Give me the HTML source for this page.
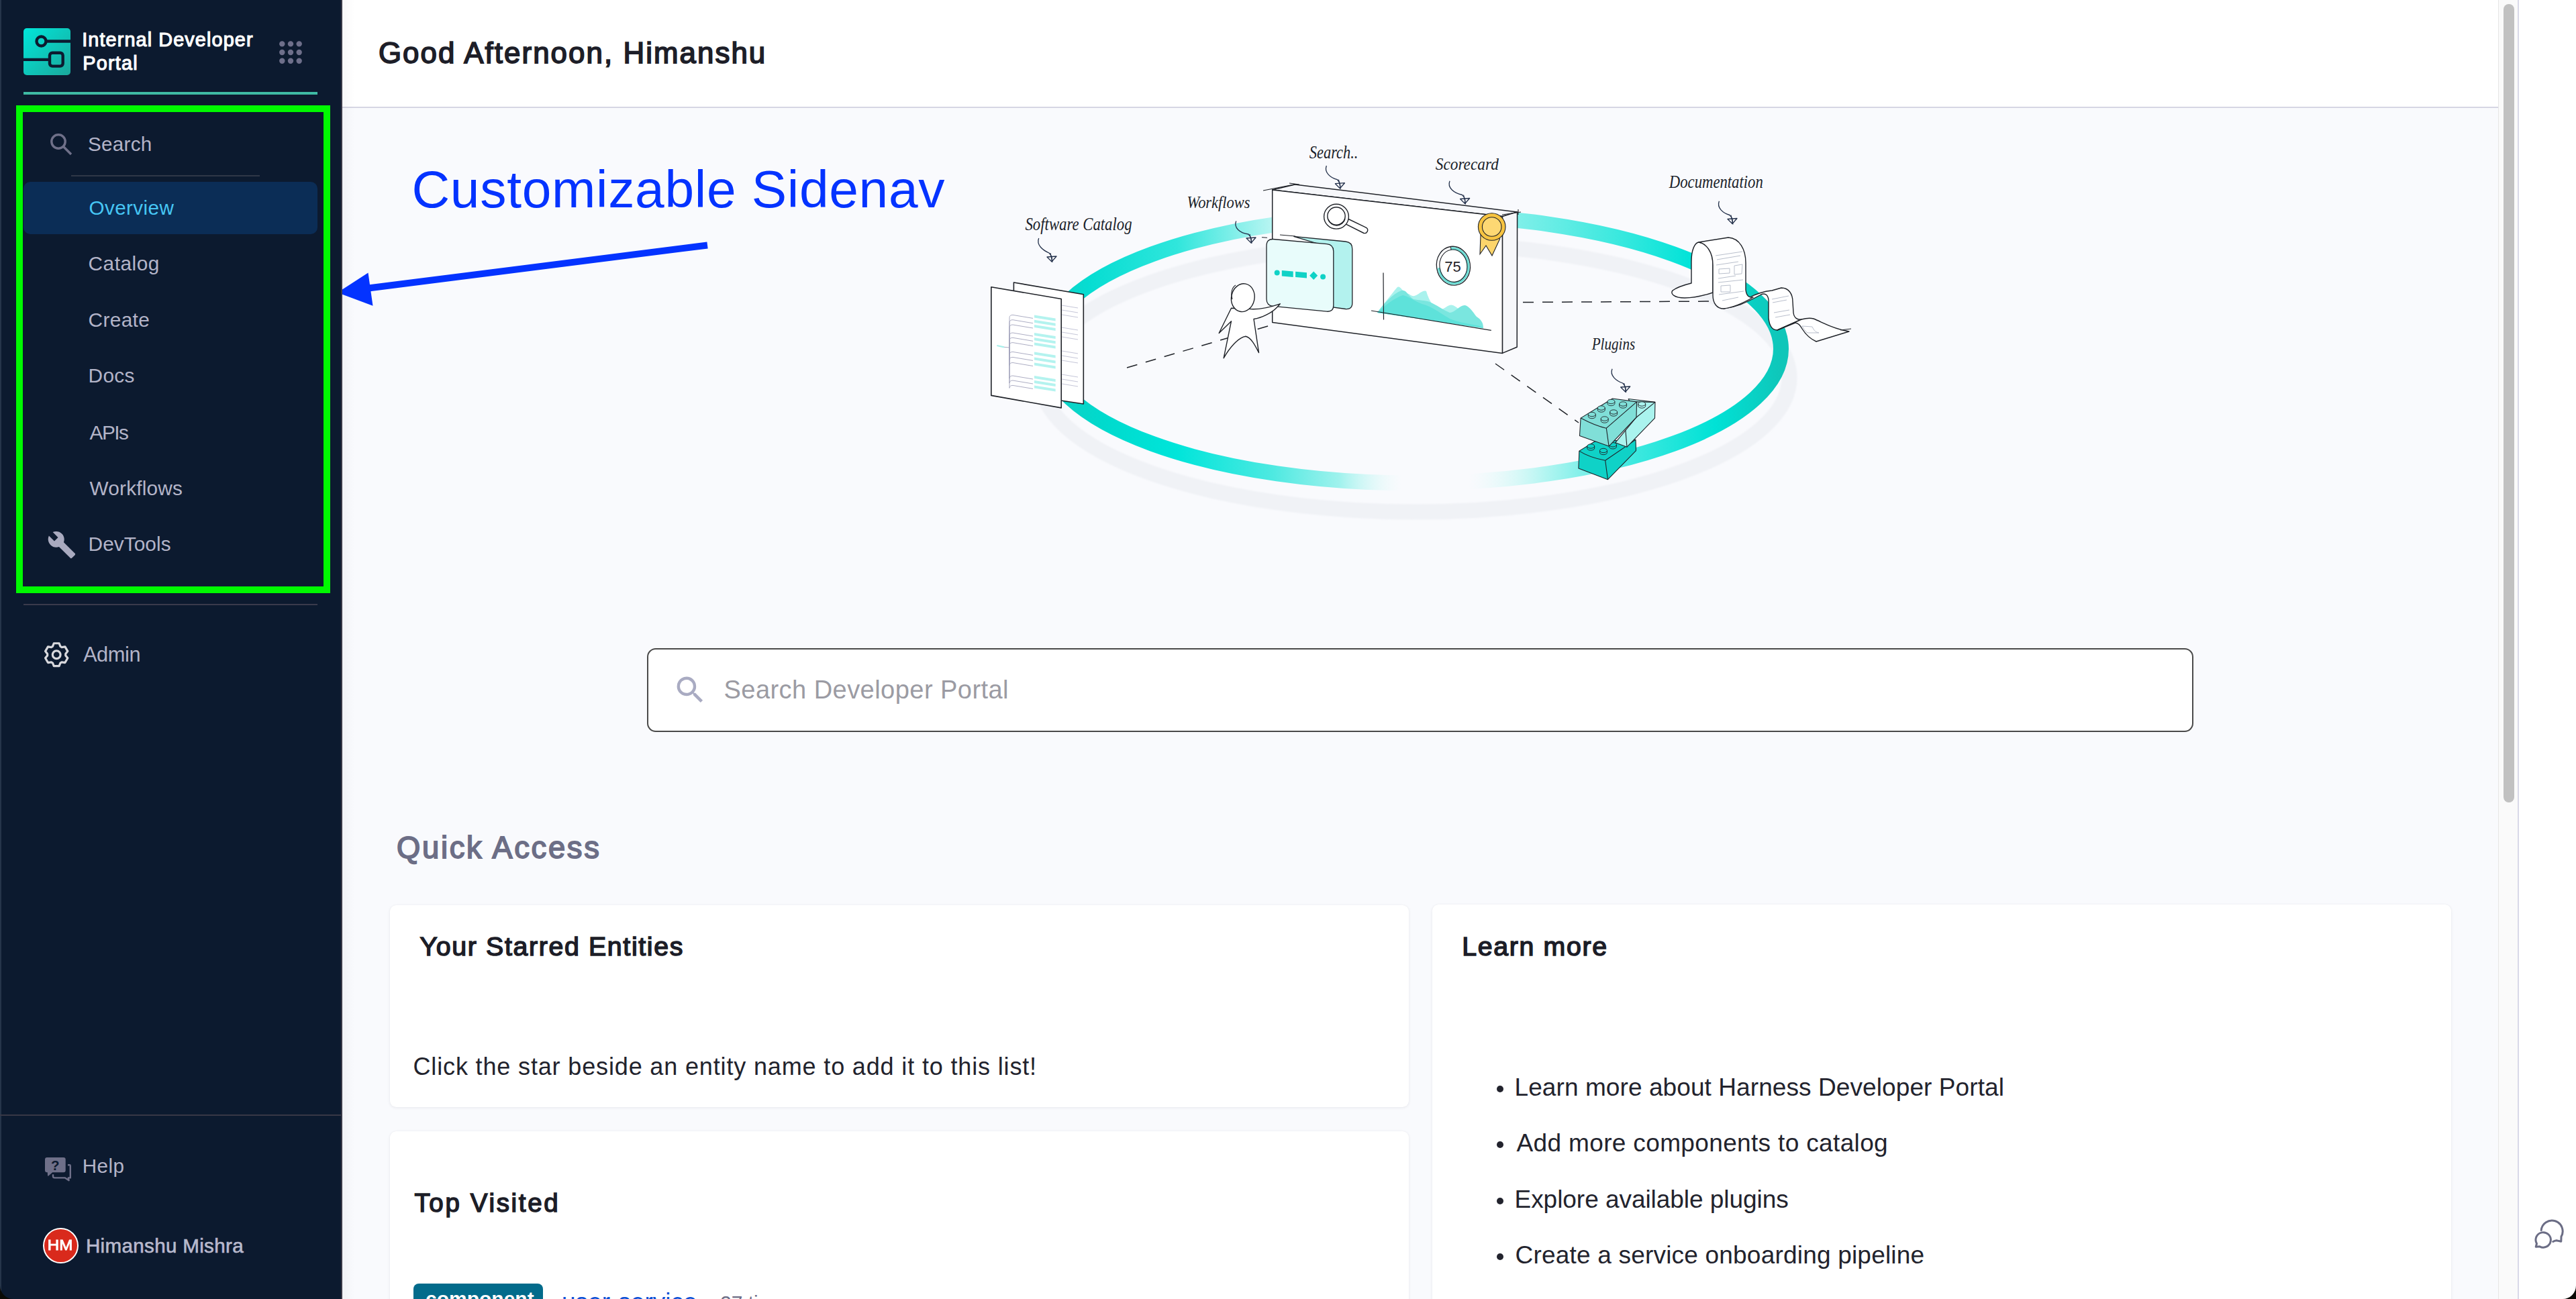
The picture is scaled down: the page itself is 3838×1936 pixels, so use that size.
<!DOCTYPE html>
<html><head><meta charset="utf-8"><title>Internal Developer Portal</title><style>
html,body{margin:0;padding:0}
body{width:3838px;height:1936px;overflow:hidden;position:relative;background:#f9fafd;font-family:"Liberation Sans",sans-serif}
.t{position:absolute;white-space:pre}
</style></head><body>
<div style="position:absolute;left:510px;top:0px;width:3212px;height:159px;background:#fff;"></div><div style="position:absolute;left:510px;top:159px;width:3212px;height:2px;background:#d6d6e3;"></div><div style="position:absolute;left:510px;top:0px;width:18px;height:1936px;background:linear-gradient(90deg,rgba(0,0,20,0.03),rgba(0,0,20,0));"></div><div style="position:absolute;left:3722px;top:0px;width:31px;height:1936px;background:#fafafa;border-left:1px solid #e6e6e6;border-right:2px solid #d9d9e8;box-sizing:border-box;"></div><div style="position:absolute;left:3730px;top:6px;width:16px;height:1190px;background:#c1c1c1;border-radius:8px;"></div><div style="position:absolute;left:3753px;top:0px;width:85px;height:1936px;background:#fff;"></div><svg style="position:absolute;left:3760px;top:1800px" width="78" height="80" viewBox="3760 1800 78 80"><g fill="none" stroke="#6b6d85" stroke-width="3" stroke-linecap="round" stroke-linejoin="round">
<path d="M3786.2,1833.6 A16,16 0 1 1 3816,1843 L3815.8,1850.2 L3809,1848.8 Q3806,1849.2 3803.8,1850.5"/>
<path d="M3779.5,1853.5 A11.2,11.2 0 1 1 3784,1857.8 L3778.2,1858.2 Z"/></g></svg><div class="t" style="left:563.88px;top:45.73px;font-size:43.82px;line-height:66px;color:#1d1e28;-webkit-text-stroke:1.75px #1d1e28;letter-spacing:2.080px;">Good Afternoon, Himanshu</div><div class="t" style="left:613.50px;top:223.49px;font-size:78.49px;line-height:118px;color:#0433ff;letter-spacing:0.689px;">Customizable Sidenav</div><svg style="position:absolute;left:500px;top:340px" width="570" height="130" viewBox="500 340 570 130">
<line x1="1054" y1="365.5" x2="545" y2="430" stroke="#0433ff" stroke-width="10"/>
<polygon points="503,436 548.5,406.5 555.5,455.8" fill="#0433ff"/></svg><svg style="position:absolute;left:1450px;top:190px" width="1350" height="620" viewBox="1450 190 1350 620"><defs>
<linearGradient id="gu" gradientUnits="userSpaceOnUse" x1="1556" y1="0" x2="2654" y2="0">
<stop offset="0" stop-color="#12cfc3"/><stop offset="0.06" stop-color="#06ddd2"/><stop offset="0.18" stop-color="#30e6dc"/>
<stop offset="0.31" stop-color="#b9f5f2"/><stop offset="0.64" stop-color="#80efe9"/><stop offset="0.77" stop-color="#3fe9df"/>
<stop offset="0.88" stop-color="#00e3d8"/><stop offset="1" stop-color="#0fc6b9"/></linearGradient>
<linearGradient id="gl" gradientUnits="userSpaceOnUse" x1="1556" y1="0" x2="2654" y2="0">
<stop offset="0" stop-color="#12cfc3"/><stop offset="0.08" stop-color="#00dacd"/><stop offset="0.18" stop-color="#00e5da"/>
<stop offset="0.31" stop-color="#4ee9e1"/><stop offset="0.40" stop-color="#9ff2ed"/><stop offset="0.485" stop-color="#e4fbfa" stop-opacity="0"/>
<stop offset="0.575" stop-color="#e4fbfa" stop-opacity="0"/><stop offset="0.68" stop-color="#b2f5f1"/><stop offset="0.79" stop-color="#44e9e0"/>
<stop offset="0.91" stop-color="#00e2d6"/><stop offset="1" stop-color="#0fc6b9"/></linearGradient>
<filter id="bl" x="-5%" y="-20%" width="110%" height="140%"><feGaussianBlur stdDeviation="1.2"/></filter>
</defs><ellipse cx="2108" cy="563" rx="558" ry="200" fill="none" stroke="#f0f2f6" stroke-width="23" filter="url(#bl)"/><path d="M1556.5,520 A548.5,200 0 0 1 2653.5,520" fill="none" stroke="url(#gu)" stroke-width="23"/><path d="M1556.5,520 A548.5,200 0 0 0 2653.5,520" fill="none" stroke="url(#gl)" stroke-width="23"/><g stroke="#1f2228" stroke-width="1.5" stroke-dasharray="16 13" fill="none"><path d="M1679,548 L1896,484"/><path d="M2269,450.5 L2556,449"/><path d="M2228,542 L2352,630"/></g><g stroke="#1f2228" stroke-width="1.6" stroke-linejoin="round"><path d="M1510.4,421 L1614.3,438.8 L1614.3,602 L1581,597 L1510.4,586 Z" fill="#fff"/><path d="M1476.8,427.8 L1581.2,445.5 L1581.2,607.9 L1476.8,589.4 Z" fill="#fff"/></g><g stroke="#c5c6d8" stroke-width="1"><path d="M1582,455 L1606,459"/><path d="M1582,462 L1606,466"/><path d="M1582,469 L1606,473"/><path d="M1582,488 L1606,492"/><path d="M1582,495 L1606,499"/><path d="M1582,502 L1606,506"/><path d="M1582,523 L1606,527"/><path d="M1582,530 L1606,534"/><path d="M1582,537 L1606,541"/><path d="M1582,558 L1606,562"/><path d="M1582,565 L1606,569"/><path d="M1582,572 L1606,576"/></g><g fill="#b4f3ef"><path d="M1541,469.4 L1572.6,474.4 L1572.6,478.4 L1541,473.4 Z"/><path d="M1541,476.7 L1572.6,481.7 L1572.6,485.7 L1541,480.7 Z"/><path d="M1541,484 L1572.6,489 L1572.6,493 L1541,488 Z"/><path d="M1541,496 L1572.6,501 L1572.6,505 L1541,500 Z"/><path d="M1541,503.3 L1572.6,508.3 L1572.6,512.3 L1541,507.3 Z"/><path d="M1541,510.6 L1572.6,515.6 L1572.6,519.6 L1541,514.6 Z"/><path d="M1541,524.4 L1572.6,529.4 L1572.6,533.4 L1541,528.4 Z"/><path d="M1541,532.4 L1572.6,537.4 L1572.6,541.4 L1541,536.4 Z"/><path d="M1541,540.5 L1572.6,545.5 L1572.6,549.5 L1541,544.5 Z"/><path d="M1541,560 L1572.6,565 L1572.6,569 L1541,564 Z"/><path d="M1541,567 L1572.6,572 L1572.6,576 L1541,571 Z"/><path d="M1541,574.4 L1572.6,579.4 L1572.6,583.4 L1541,578.4 Z"/></g><g stroke="#a3a4bc" stroke-width="0.9" fill="none"><path d="M1504,518 L1504,473.4 Q1504,469.4 1509,469.4 L1539,474.4"/><path d="M1504,518 L1504,480.7 Q1504,476.7 1509,476.7 L1539,481.7"/><path d="M1504,518 L1504,488 Q1504,484 1509,484 L1539,489"/><path d="M1504,518 L1504,500 Q1504,496 1509,496 L1539,501"/><path d="M1504,518 L1504,507.3 Q1504,503.3 1509,503.3 L1539,508.3"/><path d="M1504,518 L1504,514.6 Q1504,510.6 1509,510.6 L1539,515.6"/><path d="M1504,518 L1504,528.4 Q1504,524.4 1509,524.4 L1539,529.4"/><path d="M1504,518 L1504,536.4 Q1504,532.4 1509,532.4 L1539,537.4"/><path d="M1504,518 L1504,544.5 Q1504,540.5 1509,540.5 L1539,545.5"/><path d="M1504,518 L1504,564 Q1504,560 1509,560 L1539,565"/><path d="M1504,518 L1504,571 Q1504,567 1509,567 L1539,572"/><path d="M1504,518 L1504,578.4 Q1504,574.4 1509,574.4 L1539,579.4"/></g><path d="M1485.3,515 L1496,517.3" stroke="#a8f0ea" stroke-width="2.2"/><path d="M1496,517.3 L1504,518" stroke="#a3a4bc" stroke-width="0.9"/><g stroke="#1f2228" stroke-width="1.5" stroke-linejoin="round"><path d="M1895.7,282.9 L1929.3,274.9 L2260.6,315.9 L2238.4,322.5 Z" fill="#f6f7fa"/><path d="M2238.4,322.5 L2260.6,315.9 L2260.2,517.2 L2238.4,526.4 Z" fill="#f6f7fa"/><path d="M1895.7,282.9 L2238.4,322.5 L2238.4,526.4 L1895.7,480.5 Z" fill="#fff"/><path d="M1882,284 L1929,274.9 M1921,273 L1936,275 M2238,320 L2266,316 M2262,312 L2262,320" fill="none" stroke-width="1.1"/></g><g stroke="#1f2228" stroke-width="1.4" fill="#fff"><path d="M2006,325 L2036,339.5 A4.6,4.6 0 0 1 2032,347.5 L2003,333 Z"/><circle cx="1991" cy="322.7" r="18.4"/><circle cx="1991" cy="322" r="13.2"/><path d="M1979,327 A13,13 0 0 0 2004,326" fill="none"/></g><g transform="rotate(-8 2165.4 396.2)"><ellipse cx="2165.4" cy="396.2" rx="25" ry="29" fill="#fff" stroke="#1f2228" stroke-width="1.3"/><path d="M2165.4,370.2 A22,26 0 1 1 2143.4,396.2" fill="none" stroke="#6fdcd4" stroke-width="4.2"/><ellipse cx="2165.4" cy="396.2" rx="20.5" ry="24.2" fill="none" stroke="#1f2228" stroke-width="1.1"/><path d="M2165.4,367.2 L2165.4,372" stroke="#1f2228" stroke-width="1"/></g><text x="2164.5" y="404.5" font-family="Liberation Sans" font-size="22" text-anchor="middle" fill="#1f2228">75</text><g stroke="#1f2228" stroke-width="1.1"><path d="M2206,350 L2205,378.7 L2214,366 L2223,381 L2234.7,356 Z" fill="#fdd56b"/><circle cx="2222.7" cy="338" r="20.3" fill="#f6c340"/><circle cx="2222.7" cy="338" r="14.3" fill="#fdd873"/></g><path d="M2052,466 C2060,455 2072,440 2081,429 C2086,424 2089,434 2094,437 C2100,436 2103,444 2110,440 C2116,437 2120,432 2125,434 C2130,450 2135,458 2146,461 C2152,462 2158,452 2165,455 C2172,458 2180,468 2190,472 C2200,476 2208,480 2210,489 Z" fill="#a9f2ed"/><path d="M2052,466 C2062,452 2075,438 2088,433 C2096,431 2098,442 2106,446 C2115,448 2122,447 2130,450 C2140,454 2150,462 2160,466 C2168,466 2175,454 2183,455 C2190,457 2195,466 2200,472 C2206,476 2210,480 2210,489 Z" fill="#7ae6df"/><path d="M2052,466 C2064,455 2076,445 2090,440 C2100,442 2112,452 2125,455 C2138,460 2148,468 2160,475 C2172,480 2185,482 2195,484 C2203,485 2208,487 2210,489 Z" fill="#5ee2da"/><path d="M2061,406.4 L2061.5,476.5 M2043,463 L2221.8,492.3" stroke="#1f2228" stroke-width="1.2"/><g stroke="#1f2228" stroke-width="1.3"><path d="M1927.4,352.3 L2004.8,360 Q2014.8,361 2014.8,371 L2014.8,451.5 Q2014.8,461.5 2004.8,460.5 L1986,458 L1986,370 Z" fill="#b3f2ee"/><path d="M1897,356.5 L1976.8,363.6 Q1986.8,364.5 1986.8,374.5 L1986.8,455 Q1986.8,465 1976.8,464.2 L1897,456.4 Q1887,455.4 1887,445.4 L1887,366.5 Q1887,356 1897,356.5 Z" fill="#e8fcfb"/><path d="M1880,353.7 L1888,354.3 M1907,350 L1930,352" fill="none" stroke-width="1"/></g><g fill="#10d2c6"><circle cx="1902.7" cy="406.5" r="4"/><path d="M1909.8,403 L1926.7,404.5 L1926.7,413 L1909.8,411.5 Z"/><path d="M1930.1,404.7 L1947,406.2 L1947,414.5 L1930.1,413 Z"/><path d="M1957.2,404.5 L1963.2,410.7 L1957.2,416.9 L1951.2,410.7 Z"/><circle cx="1971.1" cy="412.4" r="4"/></g><g stroke="#1f2228" stroke-width="1.4" stroke-linejoin="round" fill="#fff"><path d="M1834.5,459.3 L1816.2,496.5 L1834.5,478.7 L1823.2,533.7 C1832,518 1845,503 1856,501.3 C1864,503 1870,515 1875.5,525.6 L1868,475.5 C1880,474 1895,466 1902.4,458.2 L1907.3,452.8 C1895,457 1875,462 1860.4,460.4 Z"/><ellipse cx="1851.8" cy="443.7" rx="17.2" ry="21" transform="rotate(12 1851.8 443.7)"/><path d="M1836,446 C1833,436 1836,428 1841,425" fill="none" stroke-width="1.1"/></g><g stroke="#1f2228" stroke-width="1.4" stroke-linejoin="round" fill="#fff"><path d="M2492,433 C2500,427 2512,424 2520,422 L2520,390 C2520,372 2525,362 2531,361 C2545,363 2552,375 2552,395 L2552,436 C2540,440 2525,444 2510,444 C2495,444 2488,438 2492,433 Z"/><path d="M2605,444 C2620,436 2630,434 2640,433 L2654,429 C2665,429 2671,438 2671,450 L2672,466 C2673,474 2678,477 2684,476 L2648,492 C2640,492 2636,484 2635,474 L2635,447 C2634,438 2628,436 2622,440 C2600,452 2585,458 2568,460 Z"/><path d="M2531,361 L2575,354 C2592,355 2601,372 2601,392 L2601,432 C2602,441 2606,444 2612,443 C2600,450 2585,458 2568,460 C2558,460 2552,452 2552,440 L2552,395 C2552,375 2542,363 2531,361 Z"/><path d="M2684,476 C2692,474 2698,474 2702,475 C2715,480 2730,490 2755,494 L2706,509 C2697,505 2690,498 2685,490 C2682,485 2680,482 2675,481 L2648,492 Z"/><path d="M2742,492 L2758,490" fill="none" stroke-width="1"/></g><g stroke="#b9bfcc" stroke-width="1" fill="none"><path d="M2556,381 L2596,375"/><path d="M2558,387 L2593,381"/><path d="M2557,395 L2590,390"/><path d="M2560,415 L2586,411"/><path d="M2560,421 L2597,417"/><path d="M2561,439 L2598,434"/><path d="M2566,448 L2590,443"/><path d="M2640,446 L2665,441"/><path d="M2641,451 L2662,447"/><path d="M2643,466 L2666,462"/><path d="M2645,473 L2667,469"/><path d="M2561,401 L2577,400 L2577,407 L2561,408 Z M2584,396 L2596,394 L2595,408 L2584,409 Z M2564,426 L2578,425 L2578,435 L2564,435 Z M2685,486 L2700,487 C2703,493 2705,495 2710,496 L2693,496 C2690,494 2687,490 2685,486 Z"/></g><g stroke="#1f2228" stroke-width="1.1" stroke-linejoin="round"><path d="M2352.9,672.1 L2376,658 L2437,655.4 L2437.5,671.6 L2395.5,714.7 L2351.9,698 Z" fill="#0fd2c7"/><path d="M2352.9,672.1 C2365,680 2380,684 2391.7,686.2 L2437,655.4 M2391.7,686.2 L2395.5,714.7" fill="none"/><path d="M2364.7,665 L2364.7,668 A5.5 3.2 0 0 0 2375.7,668 L2375.7,665 Z" fill="#0fd2c7" stroke="#1f2228" stroke-width="0.9"/><ellipse cx="2370.2" cy="665" rx="5.5" ry="3.2" fill="#0fd2c7" stroke="#1f2228" stroke-width="0.9"/><path d="M2383.5,671.5 L2383.5,674.5 A5.5 3.2 0 0 0 2394.5,674.5 L2394.5,671.5 Z" fill="#0fd2c7" stroke="#1f2228" stroke-width="0.9"/><ellipse cx="2389" cy="671.5" rx="5.5" ry="3.2" fill="#0fd2c7" stroke="#1f2228" stroke-width="0.9"/><path d="M2397.5,662.8 L2397.5,665.8 A5.5 3.2 0 0 0 2408.5,665.8 L2408.5,662.8 Z" fill="#0fd2c7" stroke="#1f2228" stroke-width="0.9"/><ellipse cx="2403" cy="662.8" rx="5.5" ry="3.2" fill="#0fd2c7" stroke="#1f2228" stroke-width="0.9"/><path d="M2426.2,594.5 L2466,599.4 L2465.5,623.1 L2424,666.2 L2406.8,659.7 L2421.9,641.4 L2438,622 Z" fill="#aaf3ee"/><path d="M2438.6,598.9 L2466,599.4 M2421.9,641.4 L2424,666.2 M2438,622 L2466,599.4" fill="none"/><path d="M2440.7,602 L2440.7,605 A5.5 3.2 0 0 0 2451.7,605 L2451.7,602 Z" fill="#aaf3ee" stroke="#1f2228" stroke-width="0.9"/><ellipse cx="2446.2" cy="602" rx="5.5" ry="3.2" fill="#aaf3ee" stroke="#1f2228" stroke-width="0.9"/><path d="M2355.1,623.1 L2402.5,594 L2438.6,598.9 L2438,622 L2397.1,665.1 L2353.5,649.5 Z" fill="#80dfd8"/><path d="M2355.1,623.1 C2368,630 2382,636 2393.3,638.2 L2438.6,598.9 M2393.3,638.2 L2397.1,665.1" fill="none"/><path d="M2366.3,617.5 L2366.3,620.5 A5.5 3.2 0 0 0 2377.3,620.5 L2377.3,617.5 Z" fill="#80dfd8" stroke="#1f2228" stroke-width="0.9"/><ellipse cx="2371.8" cy="617.5" rx="5.5" ry="3.2" fill="#80dfd8" stroke="#1f2228" stroke-width="0.9"/><path d="M2380.3,608 L2380.3,611 A5.5 3.2 0 0 0 2391.3,611 L2391.3,608 Z" fill="#80dfd8" stroke="#1f2228" stroke-width="0.9"/><ellipse cx="2385.8" cy="608" rx="5.5" ry="3.2" fill="#80dfd8" stroke="#1f2228" stroke-width="0.9"/><path d="M2394.9,598.5 L2394.9,601.5 A5.5 3.2 0 0 0 2405.9,601.5 L2405.9,598.5 Z" fill="#80dfd8" stroke="#1f2228" stroke-width="0.9"/><ellipse cx="2400.4" cy="598.5" rx="5.5" ry="3.2" fill="#80dfd8" stroke="#1f2228" stroke-width="0.9"/><path d="M2385.2,624 L2385.2,627 A5.5 3.2 0 0 0 2396.2,627 L2396.2,624 Z" fill="#80dfd8" stroke="#1f2228" stroke-width="0.9"/><ellipse cx="2390.7" cy="624" rx="5.5" ry="3.2" fill="#80dfd8" stroke="#1f2228" stroke-width="0.9"/><path d="M2398.6,614 L2398.6,617 A5.5 3.2 0 0 0 2409.6,617 L2409.6,614 Z" fill="#80dfd8" stroke="#1f2228" stroke-width="0.9"/><ellipse cx="2404.1" cy="614" rx="5.5" ry="3.2" fill="#80dfd8" stroke="#1f2228" stroke-width="0.9"/><path d="M2412.6,602 L2412.6,605 A5.5 3.2 0 0 0 2423.6,605 L2423.6,602 Z" fill="#80dfd8" stroke="#1f2228" stroke-width="0.9"/><ellipse cx="2418.1" cy="602" rx="5.5" ry="3.2" fill="#80dfd8" stroke="#1f2228" stroke-width="0.9"/></g><text x="1527.5" y="343" font-family="Liberation Serif" font-style="italic" font-size="27" fill="#1b1f2a" textLength=159 lengthAdjust=spacingAndGlyphs>Software Catalog</text><text x="1768.5" y="309.6" font-family="Liberation Serif" font-style="italic" font-size="26" fill="#1b1f2a" textLength=94 lengthAdjust=spacingAndGlyphs>Workflows</text><text x="1950.8" y="235.6" font-family="Liberation Serif" font-style="italic" font-size="27" fill="#1b1f2a" textLength=72.6 lengthAdjust=spacingAndGlyphs>Search..</text><text x="2138.8" y="252.7" font-family="Liberation Serif" font-style="italic" font-size="26" fill="#1b1f2a" textLength=94 lengthAdjust=spacingAndGlyphs>Scorecard</text><text x="2486.8" y="280.2" font-family="Liberation Serif" font-style="italic" font-size="28" fill="#1b1f2a" textLength=140 lengthAdjust=spacingAndGlyphs>Documentation</text><text x="2371.7" y="521" font-family="Liberation Serif" font-style="italic" font-size="26" fill="#1b1f2a" textLength=64.6 lengthAdjust=spacingAndGlyphs>Plugins</text><path d="M1547.7,355 C1543.7,365 1553.7,373 1563,377 C1567,381 1568,385 1567,389" fill="none" stroke="#23304a" stroke-width="1.3"/><path d="M1560,383 L1574,382 L1567,390 Z" fill="none" stroke="#23304a" stroke-width="1.3" stroke-linejoin="round"/><path d="M1565,377 L1568,391" stroke="#23304a" stroke-width="1.1"/><path d="M1841.7,329.6 C1837.7,339.6 1847.7,347.6 1860,349 C1864,353 1865,357 1864,361" fill="none" stroke="#23304a" stroke-width="1.3"/><path d="M1857,355 L1871,354 L1864,362 Z" fill="none" stroke="#23304a" stroke-width="1.3" stroke-linejoin="round"/><path d="M1862,349 L1865,363" stroke="#23304a" stroke-width="1.1"/><path d="M1976.4,247 C1972.4,257 1982.4,265 1992.4,267.7 C1996.4,271.7 1997.4,275.7 1996.4,279.7" fill="none" stroke="#23304a" stroke-width="1.3"/><path d="M1989.4,273.7 L2003.4,272.7 L1996.4,280.7 Z" fill="none" stroke="#23304a" stroke-width="1.3" stroke-linejoin="round"/><path d="M1994.4,267.7 L1997.4,281.7" stroke="#23304a" stroke-width="1.1"/><path d="M2160,269.7 C2156,279.7 2166,287.7 2178.6,290.5 C2182.6,294.5 2183.6,298.5 2182.6,302.5" fill="none" stroke="#23304a" stroke-width="1.3"/><path d="M2175.6,296.5 L2189.6,295.5 L2182.6,303.5 Z" fill="none" stroke="#23304a" stroke-width="1.3" stroke-linejoin="round"/><path d="M2180.6,290.5 L2183.6,304.5" stroke="#23304a" stroke-width="1.1"/><path d="M2561.4,299.8 C2557.4,309.8 2567.4,317.8 2577,320.5 C2581,324.5 2582,328.5 2581,332.5" fill="none" stroke="#23304a" stroke-width="1.3"/><path d="M2574,326.5 L2588,325.5 L2581,333.5 Z" fill="none" stroke="#23304a" stroke-width="1.3" stroke-linejoin="round"/><path d="M2579,320.5 L2582,334.5" stroke="#23304a" stroke-width="1.1"/><path d="M2402,549.7 C2398,559.7 2408,567.7 2417.7,571 C2421.7,575 2422.7,579 2421.7,583" fill="none" stroke="#23304a" stroke-width="1.3"/><path d="M2414.7,577 L2428.7,576 L2421.7,584 Z" fill="none" stroke="#23304a" stroke-width="1.3" stroke-linejoin="round"/><path d="M2419.7,571 L2422.7,585" stroke="#23304a" stroke-width="1.1"/></svg><div style="position:absolute;left:964px;top:966px;width:2304px;height:125px;background:#fff;border:2px solid #4a4a4a;border-radius:13px;box-sizing:border-box;"></div><svg style="position:absolute;left:1001.6px;top:1001.6px" width="52.8" height="52.8" viewBox="0 0 24 24"><path fill="#a9abc2" d="M15.5 14h-.79l-.28-.27A6.47 6.47 0 0 0 16 9.5 6.5 6.5 0 1 0 9.5 16c1.61 0 3.09-.59 4.23-1.57l.27.28v.79l5 4.99L20.49 19l-4.99-5zm-6 0C7.01 14 5 11.99 5 9.5S7.01 5 9.5 5 14 7.01 14 9.5 11.99 14 9.5 14z"/></svg><div class="t" style="left:1078.50px;top:1000.10px;font-size:38.08px;line-height:57px;color:#9b9ba3;letter-spacing:0.418px;">Search Developer Portal</div><div class="t" style="left:591.01px;top:1229.98px;font-size:45.33px;line-height:68px;color:#6c6e86;-webkit-text-stroke:1.81px #6c6e86;letter-spacing:2.708px;">Quick Access</div><div style="position:absolute;left:581px;top:1349px;width:1518px;height:301px;background:#fff;border-radius:9px;box-shadow:0 1px 4px rgba(40,41,61,0.08),0 0 1px rgba(40,41,61,0.08);"></div><div style="position:absolute;left:581px;top:1686px;width:1518px;height:304px;background:#fff;border-radius:9px;box-shadow:0 1px 4px rgba(40,41,61,0.08),0 0 1px rgba(40,41,61,0.08);"></div><div style="position:absolute;left:2134px;top:1348px;width:1518px;height:642px;background:#fff;border-radius:9px;box-shadow:0 1px 4px rgba(40,41,61,0.08),0 0 1px rgba(40,41,61,0.08);"></div><div class="t" style="left:625.59px;top:1380.79px;font-size:39.29px;line-height:59px;color:#1c1d27;-webkit-text-stroke:1.57px #1c1d27;letter-spacing:1.646px;">Your Starred Entities</div><div class="t" style="left:615.50px;top:1562.50px;font-size:36.05px;line-height:54px;color:#22232d;letter-spacing:0.831px;">Click the star beside an entity name to add it to this list!</div><div class="t" style="left:617.47px;top:1763.90px;font-size:38.46px;line-height:58px;color:#1c1d27;-webkit-text-stroke:1.54px #1c1d27;letter-spacing:2.676px;">Top Visited</div><div style="position:absolute;left:616px;top:1913px;width:193px;height:77px;background:#036b8b;border-radius:8px;"></div><div class="t" style="left:634.00px;top:1913.10px;font-size:30px;line-height:45px;color:#fff;font-weight:700;">component</div><div class="t" style="left:837.00px;top:1912.67px;font-size:37px;line-height:56px;color:#0b4fd6;">user-service</div><div class="t" style="left:1073.00px;top:1918.60px;font-size:30px;line-height:45px;color:#6b6d85;">27 times</div><div class="t" style="left:2178.29px;top:1380.79px;font-size:39.29px;line-height:59px;color:#1c1d27;-webkit-text-stroke:1.57px #1c1d27;letter-spacing:1.659px;">Learn more</div><div style="position:absolute;left:2230px;top:1618.1px;width:10px;height:10.100000000000136px;background:#22232d;border-radius:50%;"></div><div class="t" style="left:2256.50px;top:1591.95px;font-size:37.06px;line-height:56px;color:#22232d;letter-spacing:0.062px;">Learn more about Harness Developer Portal</div><div style="position:absolute;left:2230px;top:1701.1px;width:10px;height:10.100000000000136px;background:#22232d;border-radius:50%;"></div><div class="t" style="left:2259.50px;top:1674.95px;font-size:37.06px;line-height:56px;color:#22232d;letter-spacing:0.328px;">Add more components to catalog</div><div style="position:absolute;left:2230px;top:1785.1px;width:10px;height:10.100000000000136px;background:#22232d;border-radius:50%;"></div><div class="t" style="left:2256.50px;top:1758.95px;font-size:37.06px;line-height:56px;color:#22232d;letter-spacing:-0.062px;">Explore available plugins</div><div style="position:absolute;left:2230px;top:1867.8999999999999px;width:10px;height:10.100000000000136px;background:#22232d;border-radius:50%;"></div><div class="t" style="left:2257.50px;top:1841.75px;font-size:37.06px;line-height:56px;color:#22232d;letter-spacing:0.177px;">Create a service onboarding pipeline</div><div style="position:absolute;left:0px;top:0px;width:508px;height:1936px;background:#0c1a2f;"></div><div style="position:absolute;left:0px;top:0px;width:2px;height:1936px;background:#26354a;"></div><div style="position:absolute;left:508px;top:0px;width:2px;height:1936px;background:#383846;"></div><svg style="position:absolute;left:35px;top:42px" width="70" height="70" viewBox="0 0 70 70">
<defs><linearGradient id="lg" x1="0" y1="0" x2="1" y2="1"><stop offset="0" stop-color="#00e6da"/><stop offset="1" stop-color="#1ba89b"/></linearGradient></defs>
<rect width="70" height="70" rx="5" fill="url(#lg)"/>
<g fill="none" stroke="#0c1a2f" stroke-width="4.4"><circle cx="26.5" cy="19.5" r="7"/><line x1="33.5" y1="19.5" x2="70" y2="19.5"/>
<rect x="39" y="36.7" width="19.7" height="19.9" rx="4"/><line x1="0" y1="46.9" x2="39" y2="46.9"/></g></svg><div class="t" style="left:122.28px;top:37.82px;font-size:28.85px;line-height:43px;color:#ffffff;-webkit-text-stroke:1.15px #ffffff;letter-spacing:1.091px;">Internal Developer</div><div class="t" style="left:123.28px;top:72.82px;font-size:28.85px;line-height:43px;color:#ffffff;-webkit-text-stroke:1.15px #ffffff;letter-spacing:1.209px;">Portal</div><svg style="position:absolute;left:400px;top:50px" width="60" height="60" viewBox="400 50 60 60" fill="#6e6f8a"><circle cx="420.3" cy="65.4" r="4.2"/><circle cx="420.3" cy="78" r="4.2"/><circle cx="420.3" cy="90.8" r="4.2"/><circle cx="433" cy="65.4" r="4.2"/><circle cx="433" cy="78" r="4.2"/><circle cx="433" cy="90.8" r="4.2"/><circle cx="445.7" cy="65.4" r="4.2"/><circle cx="445.7" cy="78" r="4.2"/><circle cx="445.7" cy="90.8" r="4.2"/></svg><div style="position:absolute;left:35px;top:137px;width:438px;height:4px;background:#3fbba4;"></div><svg style="position:absolute;left:71px;top:195px" width="40" height="40" viewBox="71 195 40 40"><g fill="none" stroke="#6f7089" stroke-width="3.4"><circle cx="87" cy="211" r="10.2"/><line x1="94.5" y1="218.5" x2="106" y2="230" stroke-width="3.6"/></g></svg><div class="t" style="left:131.00px;top:192.72px;font-size:29.65px;line-height:44px;color:#b3b4c8;letter-spacing:0.280px;">Search</div><div style="position:absolute;left:106px;top:261px;width:281px;height:2px;background:#2f3747;"></div><div style="position:absolute;left:35px;top:271px;width:438px;height:78px;background:#0b2d56;border-radius:10px;"></div><div class="t" style="left:132.60px;top:287.72px;font-size:29.65px;line-height:44px;color:#46c6f4;letter-spacing:0.386px;">Overview</div><div class="t" style="left:131.60px;top:370.17px;font-size:29.8px;line-height:45px;color:#b3b4c8;letter-spacing:0.500px;">Catalog</div><div class="t" style="left:131.60px;top:454.17px;font-size:29.8px;line-height:45px;color:#b3b4c8;letter-spacing:0.360px;">Create</div><div class="t" style="left:131.60px;top:537.17px;font-size:29.8px;line-height:45px;color:#b3b4c8;letter-spacing:0.267px;">Docs</div><div class="t" style="left:133.60px;top:621.57px;font-size:29.8px;line-height:45px;color:#b3b4c8;letter-spacing:-1.533px;">APIs</div><div class="t" style="left:133.60px;top:705.17px;font-size:29.8px;line-height:45px;color:#b3b4c8;letter-spacing:0.175px;">Workflows</div><div class="t" style="left:131.60px;top:787.77px;font-size:29.8px;line-height:45px;color:#b3b4c8;letter-spacing:0.057px;">DevTools</div><svg style="position:absolute;left:70px;top:790px" width="44" height="44" viewBox="0 0 24 24"><path fill="#a9aabf" d="M22.7 19l-9.1-9.1c.9-2.3.4-5-1.5-6.9-2-2-5-2.4-7.4-1.3L9 6 6 9 1.6 4.7C.4 7.1.9 10.1 2.9 12.1c1.9 1.9 4.6 2.4 6.9 1.5l9.1 9.1c.4.4 1 .4 1.4 0l2.3-2.3c.5-.4.5-1.1.1-1.4z"/></svg><div style="position:absolute;left:24px;top:157px;width:468px;height:727px;border:10px solid #00f900;box-sizing:border-box;"></div><div style="position:absolute;left:35px;top:900px;width:438px;height:2px;background:#3a3a4c;"></div><svg style="position:absolute;left:60px;top:950px" width="50" height="52" viewBox="60 950 50 52"><g fill="none" stroke="#d8d8dc" stroke-width="3.2" stroke-linejoin="round"><path d="M78.45,963.37 L80.29,958.75 L88.11,958.75 L89.95,963.37 L92.00,964.56 L96.93,963.83 L100.84,970.61 L97.75,974.51 L97.75,976.89 L100.84,980.79 L96.93,987.57 L92.00,986.84 L89.95,988.03 L88.11,992.65 L80.29,992.65 L78.45,988.03 L76.40,986.84 L71.47,987.57 L67.56,980.79 L70.65,976.89 L70.65,974.51 L67.56,970.61 L71.47,963.83 L76.40,964.56Z"/><circle cx="84.2" cy="975.7" r="5.9"/></g></svg><div class="t" style="left:124.00px;top:952.92px;font-size:30.81px;line-height:46px;color:#b3b4c8;letter-spacing:-0.425px;">Admin</div><div style="position:absolute;left:0px;top:1661px;width:508px;height:2px;background:#383846;"></div><svg style="position:absolute;left:60px;top:1715px" width="55" height="55" viewBox="60 1715 55 55"><path fill="#6f7089" d="M70,1725 H94.7 Q97.7,1725 97.7,1728 V1744.2 Q97.7,1747.2 94.7,1747.2 H78.2 L72.2,1752.6 Q71,1753 71,1751.5 L70.8,1747.2 H70 Q67,1747.2 67,1744.2 V1728 Q67,1725 70,1725 Z"/>
<text x="82.3" y="1743.8" font-family="Liberation Sans" font-weight="700" font-size="20.5" fill="#0c1a2f" text-anchor="middle">?</text>
<path fill="none" stroke="#6f7089" stroke-width="2.4" stroke-linejoin="round" d="M101,1736.3 H103.6 Q104.8,1736.3 104.8,1737.5 V1755.4 H101.8 L102.6,1759.2 L97,1755.4 H81.5 Q79,1755.4 79,1753 V1750.3"/></svg><div class="t" style="left:122.70px;top:1715.72px;font-size:29.65px;line-height:44px;color:#b3b4c8;letter-spacing:0.433px;">Help</div><div style="position:absolute;left:64px;top:1829.5px;width:53px;height:53.5px;background:#d92a1c;border:2px solid #fff;border-radius:50%;box-sizing:border-box;"></div><div class="t" style="left:71.33px;top:1840.09px;font-size:21.57px;line-height:32px;color:#fff;-webkit-text-stroke:0.86px #fff;transform:scaleX(1.1179);transform-origin:1.57px 0;">HM</div><div class="t" style="left:127.93px;top:1834.52px;font-size:29.58px;line-height:44px;color:#b8b9cd;-webkit-text-stroke:0.65px #b8b9cd;letter-spacing:0.325px;">Himanshu Mishra</div><svg style="position:absolute;left:0;top:1906px" width="30" height="30"><path d="M0 10 A20 20 0 0 0 20 30 L0 30Z" fill="#0a0a05"/></svg><svg style="position:absolute;left:3808px;top:1906px" width="30" height="30"><path d="M30 10 A20 20 0 0 1 10 30 L30 30Z" fill="#0a0a05"/></svg>
</body></html>
